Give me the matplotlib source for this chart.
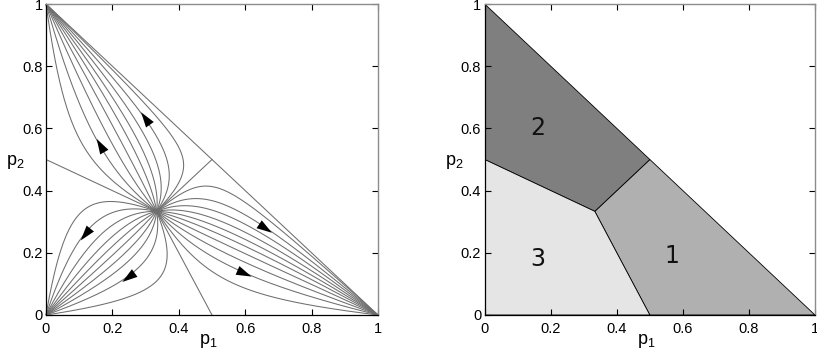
import numpy as np
import matplotlib
matplotlib.use("Agg")
import matplotlib.pyplot as plt
from matplotlib.markers import MarkerStyle
from matplotlib.path import Path
from matplotlib.transforms import Affine2D
from matplotlib.patches import Polygon

plt.rcParams["font.family"] = ["Liberation Sans", "DejaVu Sans"]
plt.rcParams["mathtext.default"] = "regular"

# ---------------- data ----------------
# coordination game (replicator dynamics) whose phase portrait is drawn
payoff = [[1, 0, 0],
          [0, 1, 0],
          [0, 0, 1]]
center_p1, center_p2 = 1 / 3, 1 / 3
# directions (deg) in which trajectories leave the interior rest point
angles_to_vertex1 = [-58, -50, -40, -28, -15, -2, 11, 23, 33, 41]
angles_to_vertex2 = [49, 58, 70, 84, 99, 114, 128, 140, 148]
angles_to_vertex3 = [160, 168, 180, 195, 212, 230, 248, 264, 278, 290]
# basin boundaries: from rest point to edge midpoints
boundary_end_p1 = [0.5, 0.0, 0.5]
boundary_end_p2 = [0.5, 0.5, 0.0]
# arrow positions
arrow_p1 = [0.303, 0.163, 0.112, 0.263, 0.599, 0.660]
arrow_p2 = [0.638, 0.547, 0.263, 0.102, 0.139, 0.284]

# right panel: basins of attraction
region_names = ["1", "2", "3"]
region_p1 = [[1 / 3, 0.5, 1.0, 0.5],
             [0.0, 1 / 3, 0.5, 0.0],
             [0.0, 0.5, 1 / 3, 0.0]]
region_p2 = [[1 / 3, 0.0, 0.0, 0.5],
             [0.5, 1 / 3, 0.5, 1.0],
             [0.0, 0.0, 1 / 3, 0.5]]
region_colors = ["#b0b0b0", "#7f7f7f", "#e5e5e5"]
label_p1 = [0.566, 0.16, 0.16]
label_p2 = [0.19, 0.60, 0.18]

ticks = [0, 0.2, 0.4, 0.6, 0.8, 1]
tick_labels = ["0", "0.2", "0.4", "0.6", "0.8", "1"]

# ---------------- dynamics ----------------
A = np.array(payoff, float)
vertices = np.array([[1, 0], [0, 1], [0, 0]], float)


def field(p):
    x = np.array([p[0], p[1], 1 - p[0] - p[1]])
    f = A @ x
    dx = x * (f - x @ f)
    return dx[:2]


def trajectory(angle, r0=0.004, dt=0.05, nmax=6000):
    a = np.deg2rad(angle)
    p = np.array([center_p1, center_p2]) + r0 * np.array([np.cos(a), np.sin(a)])
    pts = [np.array([center_p1, center_p2]), p.copy()]
    for _ in range(nmax):
        k1 = field(p)
        k2 = field(p + 0.5 * dt * k1)
        k3 = field(p + 0.5 * dt * k2)
        k4 = field(p + dt * k3)
        p = p + dt / 6 * (k1 + 2 * k2 + 2 * k3 + k4)
        pts.append(p.copy())
        if np.min(np.hypot(*(vertices - p).T)) < 0.002:
            break
    return np.array(pts)


W, H = 817, 361
fig = plt.figure(figsize=(W / 100, H / 100), dpi=100)
ax1 = fig.add_axes([46 / W, 46 / H, 332 / W, 311 / H])
ax2 = fig.add_axes([484.7 / W, 46 / H, 330.3 / W, 311 / H])


def style(ax):
    ax.set_xlim(0, 1)
    ax.set_ylim(0, 1)
    ax.set_xticks(ticks)
    ax.set_xticklabels(tick_labels)
    ax.set_yticks(ticks)
    ax.set_yticklabels(tick_labels)
    ax.tick_params(direction="in", length=4, width=0.8, top=True, right=True,
                   labelsize=10.5, colors="black")
    ax.tick_params(axis="x", pad=5)
    ax.tick_params(axis="y", pad=2.5)
    for s in ["left", "bottom"]:
        ax.spines[s].set_color("black")
        ax.spines[s].set_linewidth(0.9)
    for s in ["top", "right"]:
        ax.spines[s].set_color("#8c8c8c")
        ax.spines[s].set_linewidth(1.0)
    ax.text(0.488, -0.083, "p$_1$", transform=ax.transAxes, ha="center",
            va="center", fontsize=13)
    ax.text(-0.092, 0.492, "p$_2$", transform=ax.transAxes, ha="center",
            va="center", fontsize=13)


style(ax1)
style(ax2)

# ---- left panel ----
line_col = "#6e6e6e"
trajs = []
for ang in angles_to_vertex1 + angles_to_vertex2 + angles_to_vertex3:
    tr = trajectory(ang)
    trajs.append(tr)
    ax1.plot(tr[:, 0], tr[:, 1], color=line_col, lw=0.75, clip_on=False)
ax1.plot([0, 1], [1, 0], color=line_col, lw=0.75)
for bx, by in zip(boundary_end_p1, boundary_end_p2):
    ax1.plot([center_p1, bx], [center_p2, by], color=line_col, lw=0.75)

fig.canvas.draw()
head = Path([(1.0, 0.0), (-1.0, 0.62), (-1.0, -0.62), (1.0, 0.0)],
            [Path.MOVETO, Path.LINETO, Path.LINETO, Path.CLOSEPOLY])
for ap1, ap2 in zip(arrow_p1, arrow_p2):
    best = None
    for tr in trajs:
        d = np.hypot(tr[:, 0] - ap1, tr[:, 1] - ap2)
        i = int(np.argmin(d))
        if best is None or d[i] < best[0]:
            best = (d[i], tr, i)
    _, tr, i = best
    i = min(max(i, 1), len(tr) - 2)
    a = ax1.transData.transform(tr[i - 1])
    b = ax1.transData.transform(tr[i + 1])
    ang = np.degrees(np.arctan2(b[1] - a[1], b[0] - a[0]))
    m = MarkerStyle(head, transform=Affine2D().rotate_deg(ang))
    ax1.plot([tr[i, 0]], [tr[i, 1]], marker=m, markersize=11, color="black",
             markeredgewidth=0, linestyle="none")

# ---- right panel ----
for name, xs, ys, col, lx, ly in zip(region_names, region_p1, region_p2,
                                     region_colors, label_p1, label_p2):
    ax2.add_patch(Polygon(np.column_stack([xs, ys]), closed=True,
                          facecolor=col, edgecolor="black", lw=0.6))
    ax2.text(lx, ly, name, ha="center", va="center", fontsize=17,
             family="DejaVu Sans", color="#111111")

fig.savefig("out.png", dpi=100)
